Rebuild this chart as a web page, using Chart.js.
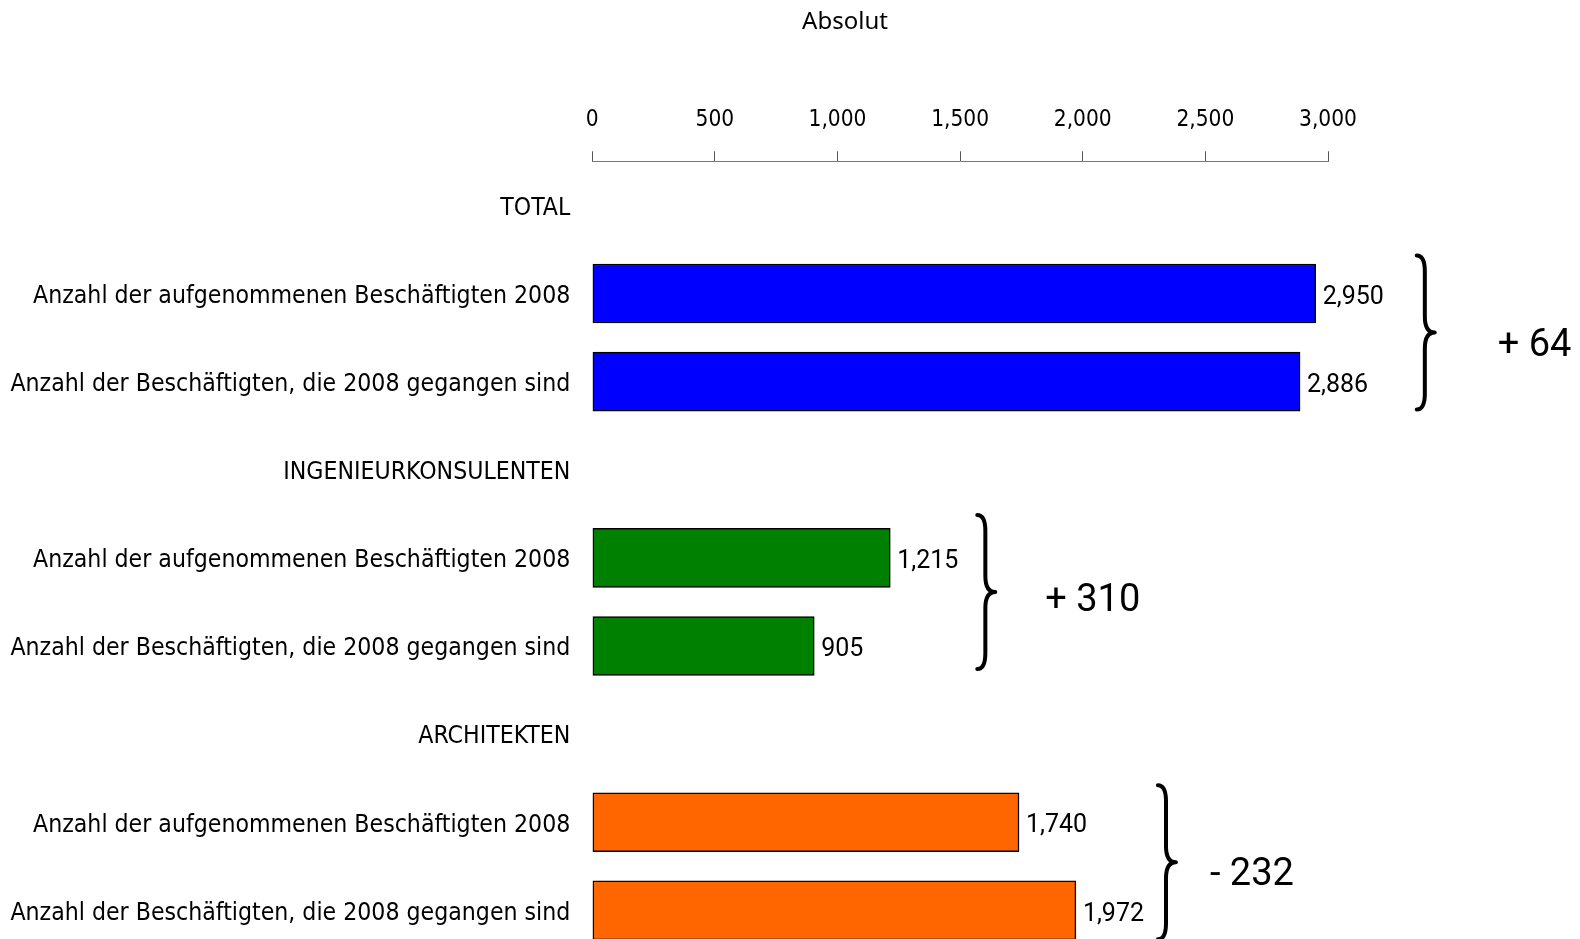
<!DOCTYPE html>
<html>
<head>
<meta charset="utf-8">
<script src="https://cdn.jsdelivr.net/npm/chart.js@4.4.1/dist/chart.umd.min.js"></script>
<style>
  html, body { margin: 0; padding: 0; background: #fff; width: 1580px; height: 939px; overflow: hidden; }
  #wrap { position: relative; width: 1580px; height: 960px; }
</style>
</head>
<body>
<div id="wrap"><canvas id="chart" width="1580" height="960"></canvas></div>
<script>
// Staff hired vs. staff who left in 2008, per professional group
const groups = ['TOTAL', 'INGENIEURKONSULENTEN', 'ARCHITEKTEN'];
const measures = ['Anzahl der aufgenommenen Beschäftigten 2008', 'Anzahl der Beschäftigten, die 2008 gegangen sind'];
const hired = [2950, 1215, 1740];
const departed = [2886, 905, 1972];
const xTicks = [0, 500, 1000, 1500, 2000, 2500, 3000];
const axisTitle = 'Absolut';

const groupColors = ['#0000FF', '#008000', '#FF6600'];
// placement tweaks per group: brace offset from the longer bar, label offset from the brace,
// and small vertical nudges of brace and label
const braceGap = [101, 87, 82];
const diffGap = [81, 68, 52];
const braceDy = [-5, -10, -4];
const diffDy = [9, 0, 9];

const LABEL_FONT = '"Liberation Sans Narrow", "DejaVu Sans Condensed", "Roboto Condensed", "Liberation Sans", sans-serif';

// pick a font size so that a text runs to the wanted width in the given family
function fitSize(text, family, width) {
  const c = document.createElement('canvas').getContext('2d');
  c.font = '100px ' + family;
  return Math.round(1000 * width / c.measureText(text).width) / 10;
}
const rowFontSize = fitSize(measures[0], LABEL_FONT, 537);
const tickFontSize = fitSize('1,000', LABEL_FONT, 58);

// one header row followed by the two measure rows for each group
const rowLabels = [];
const rowValues = [];
const rowColors = [];
groups.forEach((g, i) => {
  rowLabels.push(g, measures[0], measures[1]);
  rowValues.push(null, hired[i], departed[i]);
  rowColors.push('rgba(0,0,0,0)', groupColors[i], groupColors[i]);
});

const fmt = v => Number(v).toLocaleString('en-US');

const annotations = {
  id: 'annotations',
  afterDatasetsDraw(chart) {
    const ctx = chart.ctx;
    const meta = chart.getDatasetMeta(0);
    const xs = chart.scales.x;
    ctx.save();

    // value labels at the end of each bar
    ctx.fillStyle = '#000';
    ctx.font = '25px Roboto, "Noto Sans", sans-serif';
    ctx.textAlign = 'left';
    ctx.textBaseline = 'middle';
    meta.data.forEach((bar, i) => {
      const v = rowValues[i];
      if (v === null) return;
      ctx.fillText(fmt(v), bar.x + 7, bar.y + 4);
    });

    // braces and net change per group
    groups.forEach((g, gi) => {
      const b1 = meta.data[gi * 3 + 1];
      const b2 = meta.data[gi * 3 + 2];
      const pairTop = b1.y - b1.height / 2;
      const pairBot = b2.y + b2.height / 2;
      const mid = (pairTop + pairBot) / 2;
      const half = 77;
      const bmid = mid + braceDy[gi];
      const top = bmid - half, bot = bmid + half;
      const x0 = xs.getPixelForValue(Math.max(hired[gi], departed[gi])) + braceGap[gi];
      const w = 18;
      const xm = x0 + w * 0.45;
      const r = 16;

      ctx.beginPath();
      ctx.moveTo(x0, top);
      ctx.quadraticCurveTo(xm, top, xm, top + r);
      ctx.lineTo(xm, bmid - r);
      ctx.quadraticCurveTo(xm, bmid, x0 + w, bmid);
      ctx.quadraticCurveTo(xm, bmid, xm, bmid + r);
      ctx.lineTo(xm, bot - r);
      ctx.quadraticCurveTo(xm, bot, x0, bot);
      ctx.lineWidth = 4;
      ctx.lineCap = 'round';
      ctx.lineJoin = 'round';
      ctx.strokeStyle = '#000';
      ctx.stroke();

      const diff = hired[gi] - departed[gi];
      const txt = (diff >= 0 ? '+ ' : '- ') + fmt(Math.abs(diff));
      ctx.font = '38px Roboto, "Noto Sans", sans-serif';
      ctx.textBaseline = 'middle';
      ctx.fillText(txt, x0 + diffGap[gi], mid + diffDy[gi]);
    });

    // axis title
    ctx.font = '24px "Noto Sans", sans-serif';
    ctx.textAlign = 'center';
    ctx.textBaseline = 'middle';
    ctx.fillText(axisTitle, 845, 22);

    ctx.restore();
  }
};

new Chart(document.getElementById('chart'), {
  type: 'bar',
  data: {
    labels: rowLabels,
    datasets: [{
      data: rowValues,
      backgroundColor: rowColors,
      borderColor: '#000',
      borderWidth: 1.5,
      borderSkipped: false,
      barThickness: 59
    }]
  },
  options: {
    indexAxis: 'y',
    responsive: false,
    animation: false,
    events: [],
    layout: { padding: { top: 0, right: 252, bottom: 5.6, left: 0 } },
    plugins: {
      legend: { display: false },
      tooltip: { enabled: false },
      title: { display: false }
    },
    scales: {
      x: {
        type: 'linear',
        position: 'top',
        min: 0,
        max: 3000,
        afterBuildTicks: s => { s.ticks = xTicks.map(v => ({ value: v })); },
        afterFit: s => { s.height = 161.3; },
        grid: { drawOnChartArea: false, drawTicks: true, tickLength: 10, color: '#555', lineWidth: 1 },
        border: { display: true, color: '#777', width: 1 },
        ticks: {
          padding: 18,
          color: '#000',
          font: { family: LABEL_FONT, size: tickFontSize },
          maxRotation: 0,
          callback: v => fmt(v)
        }
      },
      y: {
        afterFit: s => { s.width = 592.3; s.paddingTop = 0; s.paddingBottom = 0; },
        grid: { display: false, drawTicks: false },
        border: { display: false },
        ticks: {
          padding: 22,
          labelOffset: 3,
          color: '#000',
          autoSkip: false,
          font: { family: LABEL_FONT, size: rowFontSize }
        }
      }
    }
  },
  plugins: [annotations]
});
</script>
</body>
</html>
